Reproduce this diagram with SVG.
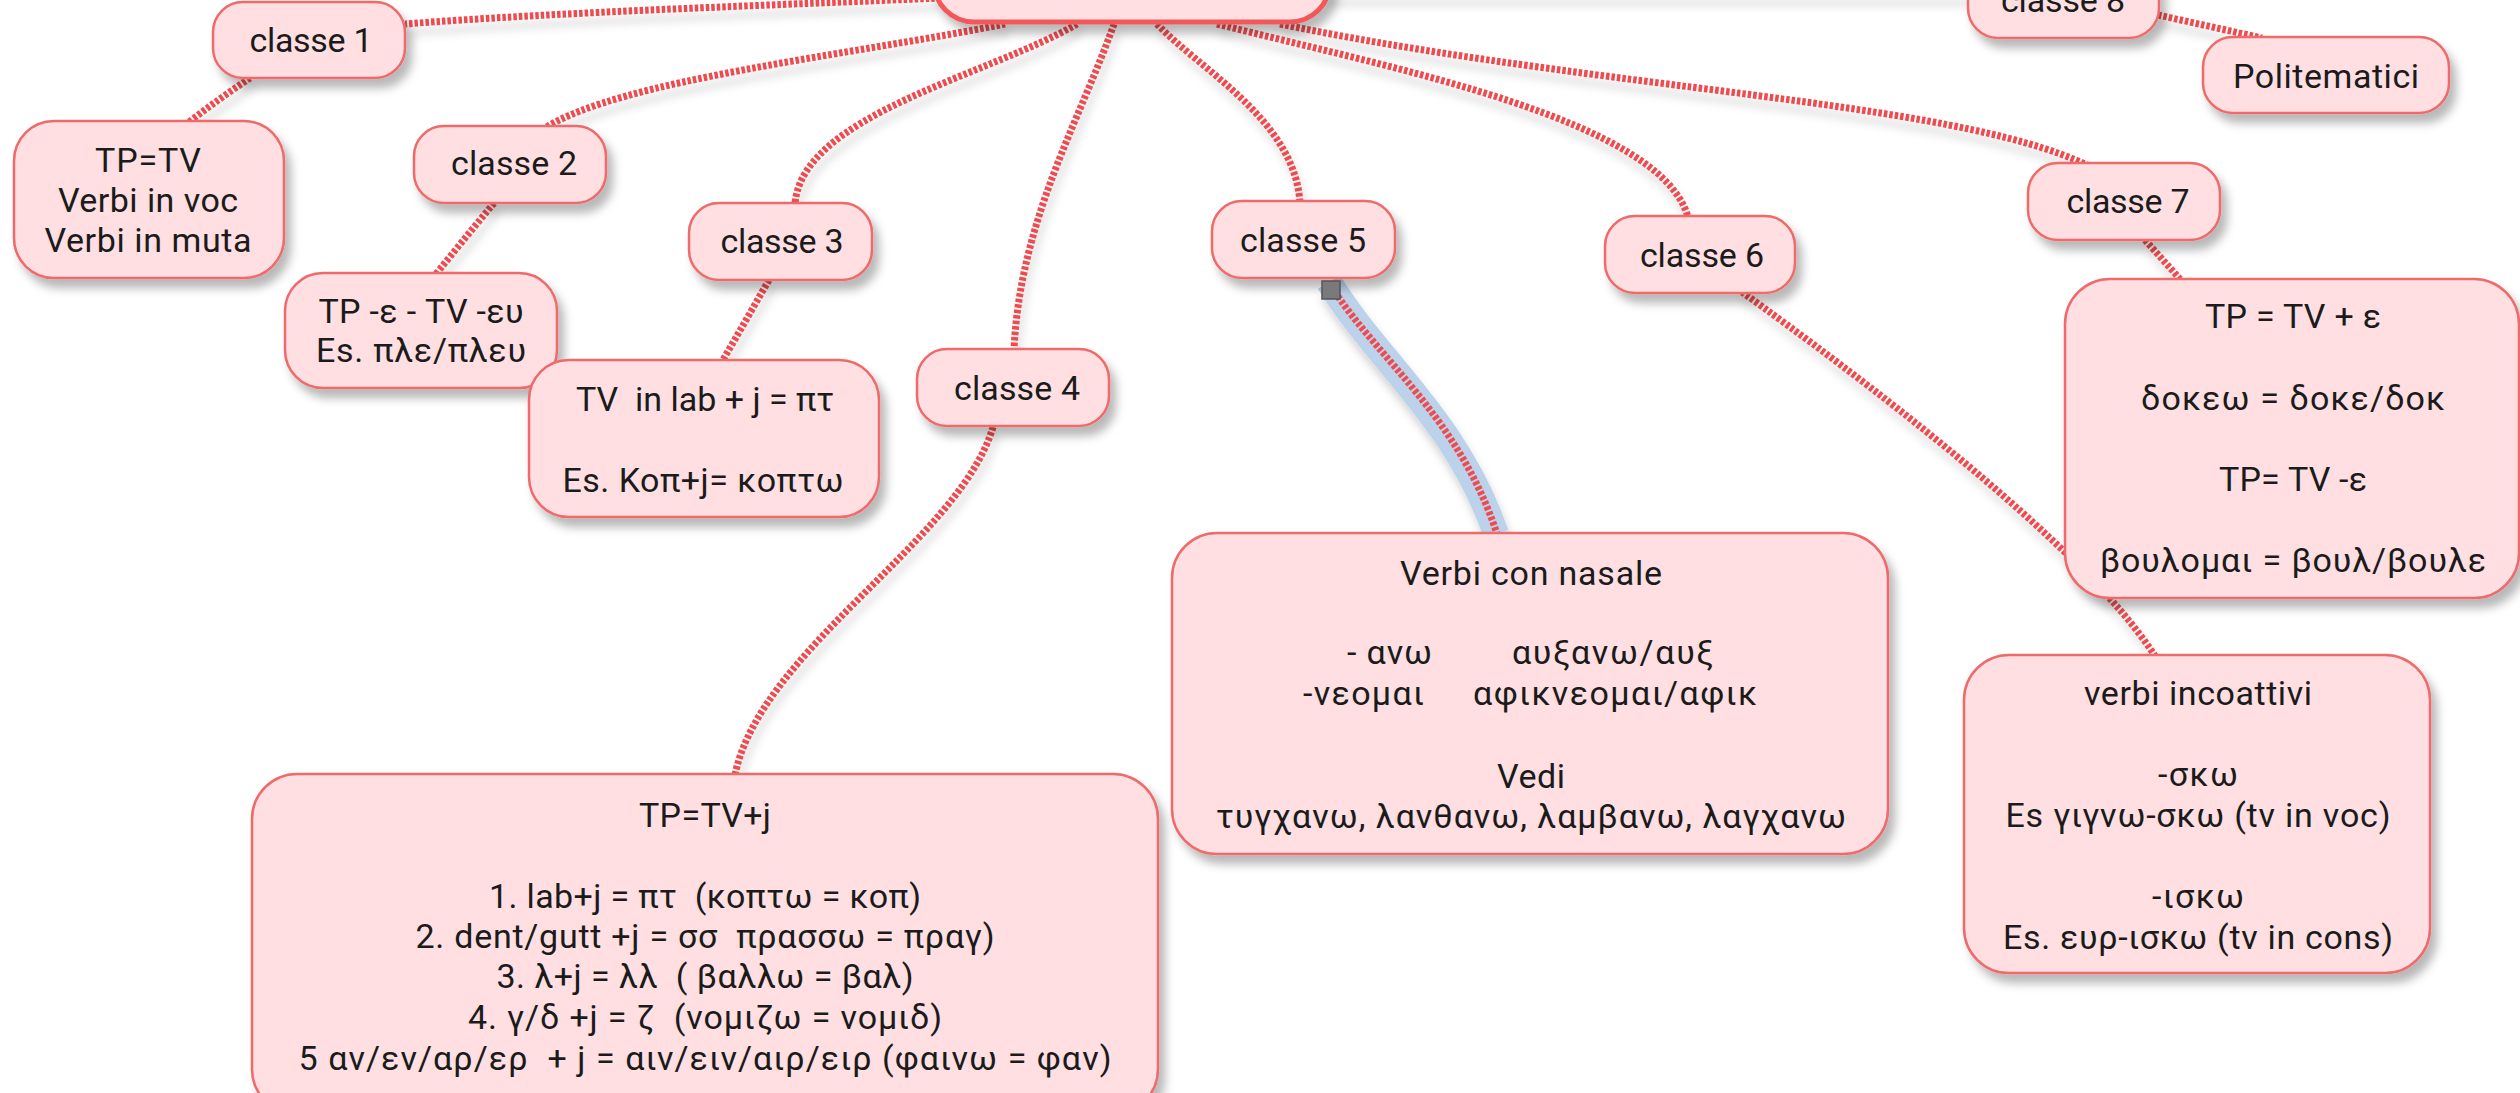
<svg xmlns="http://www.w3.org/2000/svg" width="2520" height="1093" viewBox="0 0 2520 1093">
<defs>
<filter id="nsh" x="-20%" y="-20%" width="140%" height="150%">
<feDropShadow dx="6" dy="9" stdDeviation="5" flood-color="#000" flood-opacity="0.28"/>
</filter>
<filter id="csh" x="-10%" y="-10%" width="120%" height="130%">
<feDropShadow dx="3" dy="9" stdDeviation="4" flood-color="#000" flood-opacity="0.18"/>
</filter>
<style>
.n{fill:#ffdfe1;stroke:#ef6a6a;stroke-width:2.5;filter:url(#nsh)}
.root{fill:#ffdfe1;stroke:#f0585a;stroke-width:5;filter:url(#nsh)}
.c{fill:none;stroke:#ee4b50;stroke-width:7;stroke-dasharray:3.5 2}
.t{font-family:Roboto,"Liberation Sans",sans-serif;font-size:34px;fill:#1b1b1b;text-anchor:middle;white-space:pre}
.s{text-anchor:start}
</style>
</defs>
<rect width="2520" height="1093" fill="#fff"/>
<g id="connectors" filter="url(#csh)">
<path id="sel" d="M1329,282 C1376,360 1457,420 1496,534" fill="none" stroke="#bcd2ea" stroke-width="26"/>
<path class="c" d="M940,-2 C780,5 560,12 405,24"/>
<path class="c" d="M1005,24 C850,55 620,80 545,128"/>
<path class="c" d="M1077,24 C990,75 800,115 795,205"/>
<path class="c" d="M1114,24 C1080,120 1020,220 1014,350"/>
<path class="c" d="M1157,24 C1200,70 1295,120 1300,203"/>
<path class="c" d="M1217,24 C1400,70 1660,120 1688,217"/>
<path class="c" d="M1280,24 C1600,90 1950,100 2087,165"/>
<path class="c" d="M1325,-6 C1600,-6 1800,-6 1970,-6"/>
<path class="c" d="M250,78 Q220,98 189,122"/>
<path class="c" d="M494,203 Q465,238 436,274"/>
<path class="c" d="M769,280 Q746,320 723,360"/>
<path class="c" d="M993,427 C960,540 760,650 735,775"/>
<path class="c" d="M1335,292 C1380,360 1460,420 1497,534"/>
<path class="c" d="M1742,292 C1850,370 2080,540 2155,656"/>
<path class="c" d="M2145,240 L2180,279"/>
<path class="c" d="M2158,15 L2262,38"/>
</g>
<g id="root"><rect class="root" x="934" y="-80" width="396" height="102" rx="40"/></g>
<g id="classe1"><rect class="n" x="213" y="2" width="192" height="76" rx="30"/><text class="t" x="311" y="52" textLength="123">classe 1</text></g>
<g id="n1"><rect class="n" x="14" y="121" width="270" height="157" rx="40"/>
<text class="t" x="148" y="172" textLength="106">TP=TV</text>
<text class="t" x="148" y="212" textLength="180">Verbi in voc</text>
<text class="t" x="148" y="252" textLength="207">Verbi in muta</text></g>
<g id="classe2"><rect class="n" x="414" y="126" width="192" height="77" rx="30"/><text class="t" x="514" y="175" textLength="126">classe 2</text></g>
<g id="n2"><rect class="n" x="285" y="273" width="272" height="115" rx="38"/>
<text class="t" x="421" y="323" textLength="205">TP -ε - TV -ευ</text>
<text class="t" x="421" y="362" textLength="210">Es. πλε/πλευ</text></g>
<g id="classe3"><rect class="n" x="689" y="203" width="183" height="77" rx="30"/><text class="t" x="782" y="253" textLength="123">classe 3</text></g>
<g id="n3"><rect class="n" x="529" y="360" width="350" height="157" rx="40"/>
<text class="t" x="705" y="411" textLength="258">TV  in lab + j = πτ</text>
<text class="t" x="703" y="492" textLength="281">Es. Κοπ+j= κοπτω</text></g>
<g id="classe4"><rect class="n" x="917" y="349" width="192" height="77" rx="30"/><text class="t" x="1017" y="400" textLength="126">classe 4</text></g>
<g id="n4"><rect class="n" x="252" y="774" width="906" height="340" rx="45"/>
<text class="t" x="705" y="827" textLength="132">TP=TV+j</text>
<text class="t" x="705" y="908" textLength="432">1. lab+j = πτ  (κοπτω = κοπ)</text>
<text class="t" x="705" y="948" textLength="579">2. dent/gutt +j = σσ  πρασσω = πραγ)</text>
<text class="t" x="705" y="988" textLength="417">3. λ+j = λλ  ( βαλλω = βαλ)</text>
<text class="t" x="705" y="1029" textLength="474">4. γ/δ +j = ζ  (νομιζω = νομιδ)</text>
<text class="t" x="705" y="1070" textLength="813">5 αν/εν/αρ/ερ  + j = αιν/ειν/αιρ/ειρ (φαινω = φαν)</text></g>
<g id="classe5"><rect class="n" x="1212" y="201" width="183" height="77" rx="30"/><text class="t" x="1303" y="252" textLength="126">classe 5</text></g>
<g id="n5"><rect class="n" x="1172" y="533" width="716" height="321" rx="45"/>
<text class="t" x="1531" y="585" textLength="262">Verbi con nasale</text>
<text class="t s" x="1347" y="664" textLength="85">- ανω</text>
<text class="t s" x="1512" y="664" textLength="201">αυξανω/αυξ</text>
<text class="t s" x="1303" y="705" textLength="121">-νεομαι</text>
<text class="t s" x="1473" y="705" textLength="284">αφικνεομαι/αφικ</text>
<text class="t" x="1531" y="788" textLength="68">Vedi</text>
<text class="t" x="1531" y="828" textLength="630">τυγχανω, λανθανω, λαμβανω, λαγχανω</text></g>
<g id="classe6"><rect class="n" x="1605" y="216" width="190" height="77" rx="30"/><text class="t" x="1702" y="267" textLength="124">classe 6</text></g>
<g id="n6"><rect class="n" x="1964" y="655" width="466" height="318" rx="45"/>
<text class="t" x="2198" y="705" textLength="228">verbi incoattivi</text>
<text class="t" x="2198" y="786" textLength="80">-σκω</text>
<text class="t" x="2198" y="827" textLength="385">Es γιγνω-σκω (tv in voc)</text>
<text class="t" x="2198" y="908" textLength="92">-ισκω</text>
<text class="t" x="2198" y="949" textLength="390">Es. ευρ-ισκω (tv in cons)</text></g>
<g id="classe7"><rect class="n" x="2028" y="163" width="192" height="77" rx="30"/><text class="t" x="2128" y="213" textLength="123">classe 7</text></g>
<g id="n7"><rect class="n" x="2065" y="279" width="454" height="319" rx="45"/>
<text class="t" x="2293" y="328" textLength="176">TP = TV + ε</text>
<text class="t" x="2293" y="410" textLength="304">δοκεω = δοκε/δοκ</text>
<text class="t" x="2293" y="491" textLength="148">TP= TV -ε</text>
<text class="t" x="2293" y="572" textLength="386">βουλομαι = βουλ/βουλε</text></g>
<g id="classe8"><rect class="n" x="1968" y="-38" width="191" height="76" rx="30"/><text class="t" x="2063" y="12" textLength="124">classe 8</text></g>
<g id="politematici"><rect class="n" x="2203" y="37" width="246" height="76" rx="30"/><text class="t" x="2326" y="88" textLength="186">Politematici</text></g>
<rect id="handle" x="1322" y="281" width="18" height="18" fill="#7a7a7a" stroke="#555" stroke-width="1.5"/>
</svg>
